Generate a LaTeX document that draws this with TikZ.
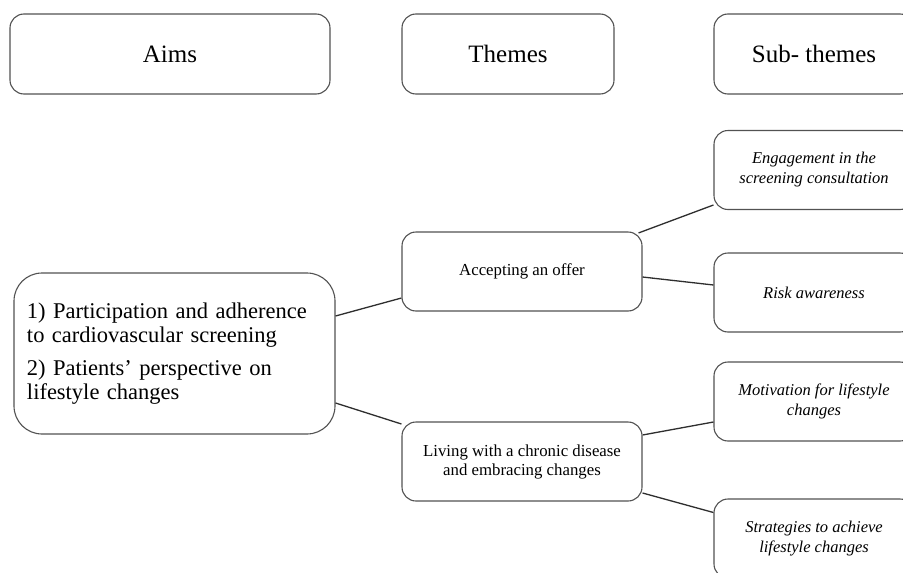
\documentclass[tikz,border=0pt]{standalone}
\usepackage{fontspec}
\setmainfont{Liberation Serif}
\begin{document}
\begin{tikzpicture}[x=1pt,y=-1pt,
  box/.style={draw=black!68, line width=1.1pt, rounded corners=14pt, fill=white, inner sep=4pt, align=center, anchor=center},
  head/.style={box, minimum height=80pt, font=\fontsize{25}{28}\selectfont},
  theme/.style={box, minimum width=240pt, minimum height=79pt, font=\fontsize{16.8}{19}\selectfont},
  sub/.style={box, minimum width=200pt, minimum height=79pt, font=\fontsize{16.5}{20}\selectfont\itshape},
  link/.style={draw=black!82, line width=1.3pt}]
\useasboundingbox (0,0) rectangle (903,573);
\clip (0,0) rectangle (903,573);
\fill[white] (0,0) rectangle (903,573);
% header row
\node[head, minimum width=320pt] (aimsH) at (170,54) {Aims};
\node[head, minimum width=212pt] (themesH) at (508,54) {Themes};
\node[head, minimum width=200pt] (subH) at (814,54) {Sub- themes};
% aims box
\node[box, rounded corners=28pt, minimum width=321pt, minimum height=161pt, text width=295pt, align=left,
      font=\fontsize{22.5}{24}\selectfont] (aims) at (174.5,353.5)
  {1) Participation and adherence to cardiovascular screening\\[9pt]2) Patients’ perspective on lifestyle changes};
% themes
\node[theme] (accept) at (522,271.5) {Accepting an offer};
\node[theme] (living) at (522,461.5) {Living with a chronic disease\\and embracing changes};
% sub-themes
\node[sub] (engage) at (814,170) {Engagement in the\\screening consultation};
\node[sub] (risk) at (814,292.5) {Risk awareness};
\node[sub] (motiv) at (814,401.5) {Motivation for lifestyle\\changes};
\node[sub] (strat) at (814,538.5) {Strategies to achieve\\lifestyle changes};
% connectors
\draw[link] ([yshift=37.5pt]aims.east) -- ([yshift=-26.5pt]accept.west);
\draw[link] ([yshift=-49.5pt]aims.east) -- ([yshift=37.5pt]living.west);
\draw[link] ([xshift=-4pt,yshift=-1.5pt]accept.north east) -- ([yshift=-35pt]engage.west);
\draw[link] ([yshift=-5.5pt]accept.east) -- ([yshift=7.5pt]risk.west);
\draw[link] ([yshift=26.5pt]living.east) -- ([yshift=-20.5pt]motiv.west);
\draw[link] ([yshift=-31.5pt]living.east) -- ([yshift=26pt]strat.west);
\end{tikzpicture}
\end{document}
